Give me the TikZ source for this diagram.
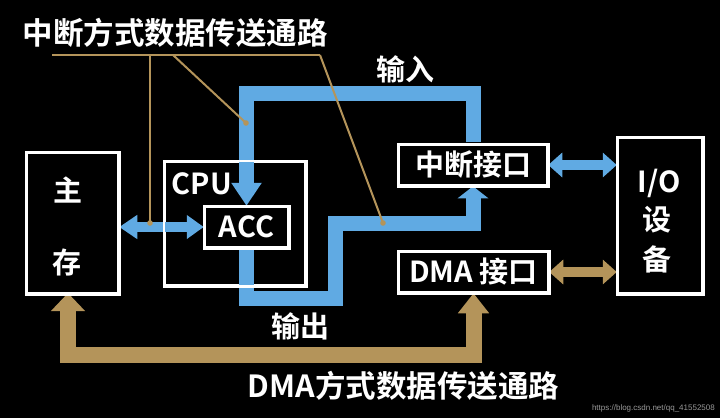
\documentclass[tikz,border=0pt]{standalone}
\usepackage{fontspec}
\setmainfont{Noto Sans CJK SC}[BoldFont={Noto Sans CJK SC Bold}]
\newfontfamily\urlfont{Liberation Sans}
\usetikzlibrary{arrows.meta}
\definecolor{busblue}{RGB}{96,170,227}
\definecolor{dmabrown}{RGB}{180,148,90}
\begin{document}
\begin{tikzpicture}[x=1pt,y=-1pt,
  box/.style={draw=white,line width=2.5pt,inner sep=0pt},
  lbl/.style={text=white,font=\bfseries\fontsize{29}{32}\selectfont,inner sep=0pt},
  big/.style={text=white,font=\bfseries\fontsize{30.5}{33}\selectfont,inner sep=0pt},
  wide/.style={line width=15pt,line join=miter,draw=busblue},
  dmabus/.style={line width=16pt,line join=miter,draw=dmabrown},
  dbl/.style={line width=10pt},
  note/.style={draw=dmabrown,line width=2pt},
  dot/.style={fill=dmabrown}]
% background and page size
\fill[black] (0,0) rectangle (720,418);
\useasboundingbox (0,0) rectangle (720,418);

% units
\node[box,minimum width=91pt,minimum height=140pt] (mem) at (72.5,223) {};
\node[box,minimum width=140pt,minimum height=123pt] (cpu) at (235,223.5) {};
\node[box,minimum width=83pt,minimum height=40pt] (acc) at (246.5,227) {};
\node[box,minimum width=148pt,minimum height=40pt] (zd) at (473,165) {};
\node[box,minimum width=149pt,minimum height=40pt] (dma) at (473.5,272) {};
\node[box,minimum width=84pt,minimum height=155pt] (io) at (660,215.5) {};

% labels inside the units
\node[lbl] (zhu) at (67.5,190) {主};
\node[lbl] (cun) at (67,262) {存};
\node[lbl] (cpul) at (202,184) {CPU};
\node[lbl] (accl) at (acc) {ACC};
\node[lbl] (zdl) at (zd) {中断接口};
\node[lbl] (dmal) at (dma) {DMA 接口};
\node[lbl] (iol) at (659,183.5) {I/O};
\node[lbl] (she) at (657,220) {设};
\node[lbl] (bei) at (657,259) {备};

% route levels
\coordinate (inTop) at (0,93);
\coordinate (outBot) at (0,298);
\coordinate (outX) at (335,0);
\coordinate (outMid) at (0,223);
\coordinate (dmaBot) at (0,355);
\coordinate (memIn) at (68,293);

% interrupt-driven input: interface -> ACC
\draw[wide,shorten <=1.3pt,-{Triangle[width=29pt,length=23pt]}]
  (zd.north) -- (zd.north |- inTop) -- (acc.north |- inTop) -- (acc.north);
% interrupt-driven output: ACC -> interface
\draw[wide,shorten <=1.3pt,-{Triangle[width=30pt,length=12pt]}]
  (acc.south) -- (acc.south |- outBot) -- (outX |- outBot) -- (outX |- outMid)
  -- (zd.south |- outMid) -- (zd.south);
% DMA transfer path: interface <-> main memory
\draw[dmabus,{Triangle[width=33pt,length=18pt]}-{Triangle[width=30pt,length=20pt]}]
  (memIn) -- (memIn |- dmaBot) -- (dma.south |- dmaBot) -- (dma.south);

% two-way links
\draw[busblue,dbl,{Triangle[width=23pt,length=18pt]}-{Triangle[width=23pt,length=17pt]}]
  (mem.east |- acc.west) -- (acc.west);
\draw[busblue,dbl,{Triangle[width=24pt,length=14pt]}-{Triangle[width=24pt,length=14pt]}]
  (zd.east) -- (io.west |- zd.east);
\draw[dmabrown,dbl,{Triangle[width=24pt,length=14pt]}-{Triangle[width=24pt,length=14pt]}]
  (dma.east) -- (io.west |- dma.east);

% redraw borders on top of the buses
\foreach \n in {mem,cpu,acc,zd,dma,io} \draw[white,line width=2.5pt] (\n.north west) rectangle (\n.south east);

% path labels
\node[big] (title) at (175,32.5) {中断方式数据传送通路};
\node[lbl] (inl) at (405,69) {输入};
\node[lbl] (outl) at (300,326) {输出};
\node[big] (dmat) at (403.5,386) {DMA方式数据传送通路};

% leader lines from the title
\coordinate (nA) at (52,55);
\coordinate (nB) at (320,55);
\coordinate (nV) at (150,55);
\coordinate (nD) at (173,55);
\coordinate (pV) at (150,223);
\coordinate (pD) at (246,123);
\coordinate (pO) at (383,223);
\draw[note] (nA) -- (nB);
\draw[note] (nV) -- (pV);
\draw[note] (nD) -- (pD);
\draw[note] (nB) -- (pO);
\foreach \p in {pV,pD,pO} \fill[dot] (\p) circle (2.8pt);

% source address
\node[text=gray!80,font=\urlfont\fontsize{8}{9}\selectfont,inner sep=0pt,anchor=east] (src) at (715,408) {https://blog.csdn.net/qq\_41552508};
\end{tikzpicture}
\end{document}
